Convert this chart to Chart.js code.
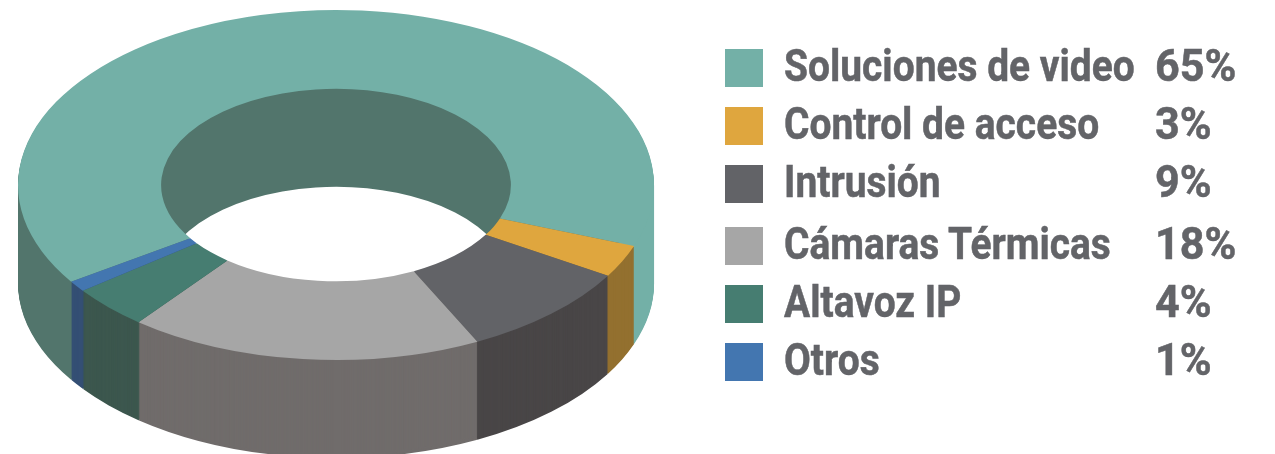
<!DOCTYPE html>
<html>
<head>
<meta charset="utf-8">
<script src="https://cdn.jsdelivr.net/npm/chart.js@4"></script>
<style>
    html, body { margin: 0; padding: 0; background: #fff; overflow: hidden; }
    #wrap { position: relative; width: 1275px; height: 454px; }
    #chart { position: absolute; left: 0; top: 0; }
    .swatch { position: absolute; left: 725px; width: 38px; height: 38px; }
    .label, .pct {
        position: absolute; line-height: 34px; white-space: nowrap;
        font-family: Roboto, sans-serif; font-weight: 700; font-size: 44px;
        color: #636468; transform-origin: left center;
        -webkit-text-stroke: 0.5px #636468;
    }
    .label { left: 784px; transform: scaleX(0.885); }
    .pct { left: 1155px; transform: scaleX(0.98); }
</style>
</head>
<body>
<div id="wrap">
    <canvas id="chart" width="1275" height="454"></canvas>
</div>
<script>
const categories = ["Soluciones de video", "Control de acceso", "Intrusión", "Cámaras Térmicas", "Altavoz IP", "Otros"]
const shares = [65, 3, 9, 18, 4, 1]
const topColours = ["#73b0a7", "#dfa63e", "#626367", "#a6a6a6", "#467d71", "#4376b0"]
const sideColours = ["#52756c", "#93702f", "#494647", "#706c6b", "#3c574e", "#344f74"]
const legendTops = [49, 107, 165, 227, 285, 343]

// the flat ring gets squashed onto this ellipse, all numbers in screen px
const centreX = 336, centreY = 185, radiusX = 318, radiusY = 175
const depth = 98
const litSideFrom = 620 // teal wall right of this x is as light as the top

function squash(chart, ctx, drop) {
    const meta = chart.getDatasetMeta(0)
    const arc = meta.data[0]
    ctx.translate(centreX, centreY + drop)
    ctx.scale(radiusX / arc.outerRadius, radiusY / arc.outerRadius)
    ctx.translate(-arc.x, -arc.y)
}

const extrude = {
    id: 'extrude',
    beforeDatasetsDraw(chart) {
        const ctx = chart.ctx
        const meta = chart.getDatasetMeta(0)
        const first = meta.data[0]
        const scaleX = radiusX / first.outerRadius
        const localX = first.x + (litSideFrom - centreX) / scaleX
        const tealSide = ctx.createLinearGradient(0, 0, chart.width, 0)
        const stop = Math.min(localX / chart.width, 1)
        tealSide.addColorStop(0, sideColours[0])
        tealSide.addColorStop(stop, sideColours[0])
        tealSide.addColorStop(stop, topColours[0])
        tealSide.addColorStop(1, topColours[0])

        for (let drop = depth; drop > 0; drop--) {
            ctx.save()
            squash(chart, ctx, drop)
            meta.data.forEach((arc, i) => {
                const layer = Object.create(arc)
                layer.options = Object.assign({}, arc.options, {
                    backgroundColor: i === 0 ? tealSide : sideColours[i]
                })
                layer.draw(ctx)
            })
            ctx.restore()
        }
        ctx.save()
        squash(chart, ctx, 0)
    },
    afterDatasetsDraw(chart) {
        chart.ctx.restore()
    }
}

new Chart(document.getElementById('chart'), {
    type: 'doughnut',
    data: {
        labels: categories,
        datasets: [{
            data: shares,
            backgroundColor: topColours,
            borderWidth: 0
        }]
    },
    options: {
        responsive: false,
        animation: false,
        rotation: 236.4,
        cutout: '55%',
        layout: { padding: { left: 0, right: 821, top: 0, bottom: 0 } },
        plugins: { legend: { display: false }, tooltip: { enabled: false } }
    },
    plugins: [extrude]
})

const wrap = document.getElementById('wrap')
categories.forEach((name, i) => {
    const swatch = document.createElement('div')
    swatch.className = 'swatch'
    swatch.style.top = legendTops[i] + 'px'
    swatch.style.background = topColours[i]
    wrap.appendChild(swatch)

    const label = document.createElement('div')
    label.className = 'label'
    label.style.top = legendTops[i] + 'px'
    label.textContent = name
    wrap.appendChild(label)

    const pct = document.createElement('div')
    pct.className = 'pct'
    pct.style.top = legendTops[i] + 'px'
    pct.textContent = shares[i] + '%'
    wrap.appendChild(pct)
})
</script>
</body>
</html>
